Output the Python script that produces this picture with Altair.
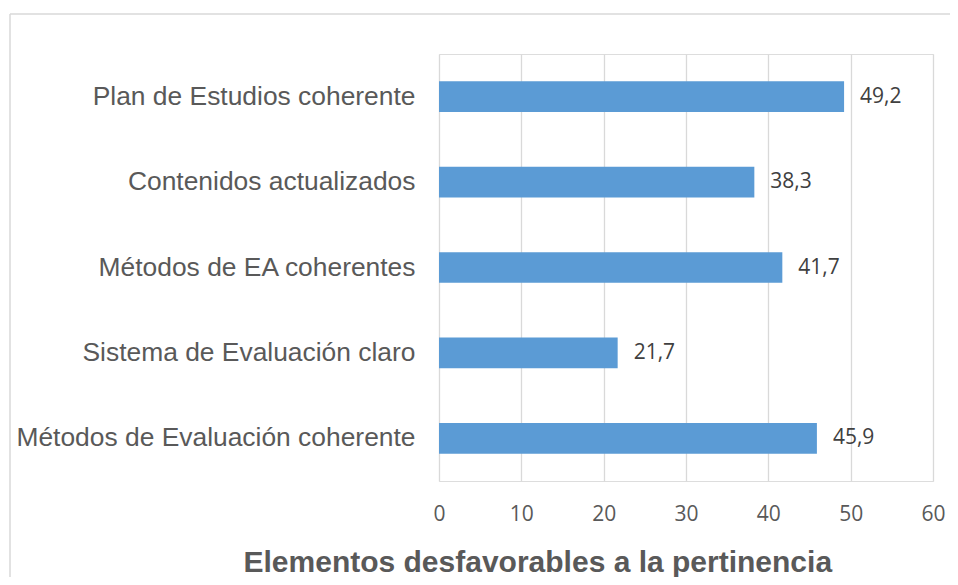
import altair as alt
import pandas as pd

categories = [
    "Plan de Estudios coherente",
    "Contenidos actualizados",
    "Métodos de EA coherentes",
    "Sistema de Evaluación claro",
    "Métodos de Evaluación coherente",
]
values = [49.2, 38.3, 41.7, 21.7, 45.9]
x_ticks = [0, 10, 20, 30, 40, 50, 60]
title_text = "Elementos desfavorables a la pertinencia"

df = pd.DataFrame({"cat": categories, "val": values})

W, H = 494, 427

x_enc = alt.X(
    "val:Q",
    scale=alt.Scale(domain=[0, 60], nice=False),
    axis=alt.Axis(
        values=x_ticks,
        grid=True,
        gridColor="#d9d9d9",
        gridWidth=1.3,
        domain=False,
        ticks=False,
        labelFlush=False,
        labelFont="Open Sans",
        labelFontSize=21,
        labelColor="#595959",
        labelPadding=22,
        title=title_text,
        titleFont="Liberation Sans",
        titleFontSize=30,
        titleFontWeight="bold",
        titleColor="#595959",
        titleAlign="left",
        titleBaseline="alphabetic",
        titleAnchor="start",
        titleX=-196,
        titleY=90,
    ),
)
y_enc = alt.Y(
    "cat:N",
    sort=categories,
    scale=alt.Scale(paddingInner=0.64, paddingOuter=0.32),
    axis=alt.Axis(
        title=None,
        domain=False,
        ticks=False,
        grid=False,
        labelFont="Liberation Sans",
        labelFontSize=26.4,
        labelColor="#595959",
        labelPadding=24,
        labelLimit=600,
    ),
)

frame = pd.DataFrame({"a": [0]})
top_line = alt.Chart(frame).mark_rule(color="#d9d9d9", strokeWidth=1.5).encode(
    x=alt.value(-429), x2=alt.value(511), y=alt.value(-40)
)
left_line = alt.Chart(frame).mark_rule(color="#d9d9d9", strokeWidth=1.5).encode(
    x=alt.value(-429), y=alt.value(-40), y2=alt.value(530)
)

bars = alt.Chart(df).mark_bar(color="#5B9BD5").encode(x=x_enc, y=y_enc)

labels = alt.Chart(df).transform_calculate(
    lab="replace(format(datum.val, '.1f'), '.', ',')"
).mark_text(
    align="left", baseline="middle", dx=16,
    font="Open Sans", fontSize=21, color="#404040",
).encode(
    x=alt.X("val:Q"),
    y=alt.Y("cat:N", sort=categories),
    text="lab:N",
)

chart = alt.layer(top_line, left_line, bars, labels).properties(
    width=W,
    height=H,
    autosize=alt.AutoSizeParams(type="none"),
    padding={"left": 431, "top": 46, "right": 17, "bottom": 96},
).configure_view(stroke=None).configure(background="white")

chart.save("out.html", embed_options={"renderer": "svg", "actions": False})
